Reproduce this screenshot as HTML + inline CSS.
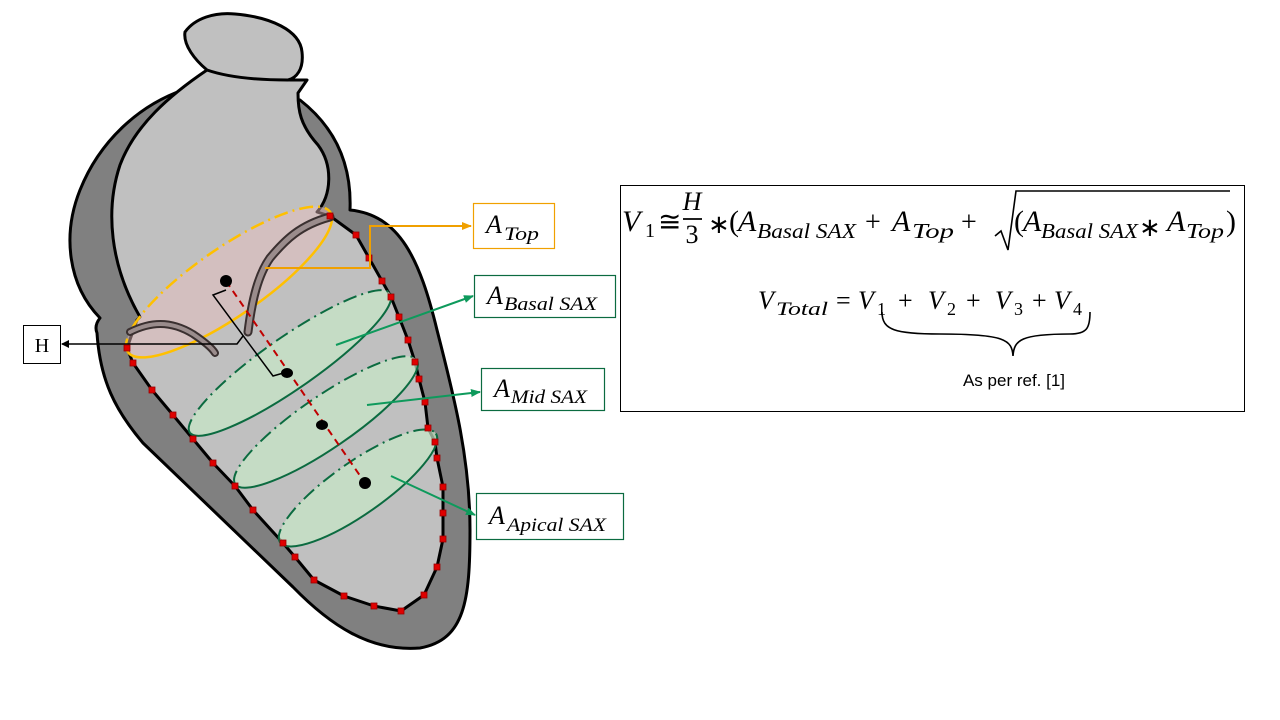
<!DOCTYPE html>
<html><head><meta charset="utf-8"><style>
html,body{margin:0;padding:0;background:#fff;}
svg{display:block;}
.m{font-family:"Liberation Serif",serif;font-style:italic;}
.n{font-family:"Liberation Serif",serif;}
</style></head><body>
<svg width="1280" height="720" viewBox="0 0 1280 720" xmlns="http://www.w3.org/2000/svg">
<defs>
<marker id="ab" markerWidth="8" markerHeight="8" refX="7" refY="4" orient="auto" markerUnits="userSpaceOnUse"><path d="M0,0 L8,4 L0,8 z" fill="#000"/></marker>
<marker id="ao" markerWidth="10" markerHeight="8" refX="9" refY="4" orient="auto" markerUnits="userSpaceOnUse"><path d="M0,0 L10,4 L0,8 z" fill="#f0a000"/></marker>
<marker id="ag" markerWidth="10" markerHeight="8" refX="9" refY="4" orient="auto" markerUnits="userSpaceOnUse"><path d="M0,0 L10,4 L0,8 z" fill="#0e9a5c"/></marker>
</defs>

<path d="M183,90 C140,105 100,140 80,190 C62,235 68,285 100,318 C96,323 95,328 97,333 C100,380 115,410 143,443 L293,587 C330,625 370,652 420,648 C465,640 470,600 470,530 C470,460 455,400 437,330 C420,260 400,215 350,210 C352,160 332,125 300,100 Z" fill="#808080" stroke="#000" stroke-width="3" stroke-linejoin="round"/>

<path d="M207,70 C170,95 135,125 120,165 C105,210 110,265 140,317 L137,320 L127,348 L133,363 L152,390 L173,415 L193,439 L213,463 L235,486 L253,510 L283,543 L295,557 L314,580 L344,596 L374,606 L401,611 L424,595 L437,567 L443,539 L443,513 L443,487 L437,458 L435,442 L428,428 L425,402 L419,379 L415,362 L408,340 L399,317 L391,297 L382,281 L369,258 L356,235 L330,216 L317,212 C332,195 333,165 318,145 C300,125 298,110 298,93 L307,80 L290,80 Z" fill="#c0c0c0" stroke="#000" stroke-width="3" stroke-linejoin="round"/>
<path d="M185,32 C195,18 215,12 235,14 C270,17 300,30 302,52 C304,70 296,78 288,80 C260,80 230,78 207,70 C195,60 183,45 185,32 Z" fill="#c0c0c0" stroke="#000" stroke-width="3"/>

<g transform="translate(229,282) rotate(-34.7)">
<ellipse cx="0" cy="0" rx="123" ry="34" fill="rgba(235,190,190,0.45)"/>
<path d="M-123,0 A123,34 0 0 1 123,0" fill="none" stroke="#ffc000" stroke-width="2.5" stroke-dasharray="14,5,2,5"/>
<path d="M-123,0 A123,34 0 0 0 123,0" fill="none" stroke="#ffc000" stroke-width="2.5"/>
</g>

<path d="M330,217 C300,225 285,240 270,258 C258,275 252,300 248,332" fill="none" stroke="#3a3030" stroke-width="9" stroke-linecap="round"/>
<path d="M330,217 C300,225 285,240 270,258 C258,275 252,300 248,332" fill="none" stroke="#9a8c8c" stroke-width="5" stroke-linecap="round"/>
<path d="M130,332 C150,322 170,320 193,334 C205,342 212,348 215,353" fill="none" stroke="#3a3030" stroke-width="8" stroke-linecap="round"/>
<path d="M130,332 C150,322 170,320 193,334 C205,342 212,348 215,353" fill="none" stroke="#9a8c8c" stroke-width="4" stroke-linecap="round"/>

<g transform="translate(290,363) rotate(-34.8)">
<ellipse rx="122" ry="26" fill="rgba(200,232,200,0.7)"/>
<path d="M-122,0 A122,26 0 0 1 122,0" fill="none" stroke="#0b6b40" stroke-width="2" stroke-dasharray="14,5,2,5"/>
<path d="M-122,0 A122,26 0 0 0 122,0" fill="none" stroke="#0b6b40" stroke-width="2"/>
</g>
<g transform="translate(326,422) rotate(-34.4)">
<ellipse rx="110" ry="26" fill="rgba(200,232,200,0.7)"/>
<path d="M-110,0 A110,26 0 0 1 110,0" fill="none" stroke="#0b6b40" stroke-width="2" stroke-dasharray="14,5,2,5"/>
<path d="M-110,0 A110,26 0 0 0 110,0" fill="none" stroke="#0b6b40" stroke-width="2"/>
</g>
<g transform="translate(358,488) rotate(-35)">
<ellipse rx="95" ry="26" fill="rgba(200,232,200,0.7)"/>
<path d="M-95,0 A95,26 0 0 1 95,0" fill="none" stroke="#0b6b40" stroke-width="2" stroke-dasharray="14,5,2,5"/>
<path d="M-95,0 A95,26 0 0 0 95,0" fill="none" stroke="#0b6b40" stroke-width="2"/>
</g>

<line x1="226" y1="281" x2="365" y2="483" stroke="#c00000" stroke-width="2" stroke-dasharray="7,5"/>
<circle cx="226" cy="281" r="6" fill="#000"/>
<ellipse cx="287" cy="373" rx="6" ry="5" fill="#000"/>
<ellipse cx="322" cy="425" rx="6" ry="5" fill="#000"/>
<circle cx="365" cy="483" r="6" fill="#000"/>

<path d="M226,290 L213,295 L273,376 L287,372" fill="none" stroke="#000" stroke-width="1.5"/>
<path d="M243,336 L237,344 L62,344" fill="none" stroke="#000" stroke-width="1.5" marker-end="url(#ab)"/>

<g fill="#e00000" stroke="#900" stroke-width="0.8">
<rect x="124" y="345" width="6" height="6"/><rect x="130" y="360" width="6" height="6"/><rect x="149" y="387" width="6" height="6"/><rect x="170" y="412" width="6" height="6"/><rect x="190" y="436" width="6" height="6"/><rect x="210" y="460" width="6" height="6"/><rect x="232" y="483" width="6" height="6"/><rect x="250" y="507" width="6" height="6"/><rect x="280" y="540" width="6" height="6"/><rect x="292" y="554" width="6" height="6"/><rect x="311" y="577" width="6" height="6"/><rect x="341" y="593" width="6" height="6"/><rect x="371" y="603" width="6" height="6"/><rect x="398" y="608" width="6" height="6"/><rect x="421" y="592" width="6" height="6"/><rect x="434" y="564" width="6" height="6"/><rect x="440" y="536" width="6" height="6"/><rect x="440" y="510" width="6" height="6"/><rect x="440" y="484" width="6" height="6"/><rect x="434" y="455" width="6" height="6"/><rect x="432" y="439" width="6" height="6"/><rect x="425" y="425" width="6" height="6"/><rect x="422" y="399" width="6" height="6"/><rect x="416" y="376" width="6" height="6"/><rect x="412" y="359" width="6" height="6"/><rect x="405" y="337" width="6" height="6"/><rect x="396" y="314" width="6" height="6"/><rect x="388" y="294" width="6" height="6"/><rect x="379" y="278" width="6" height="6"/><rect x="366" y="255" width="6" height="6"/><rect x="353" y="232" width="6" height="6"/><rect x="327" y="213" width="6" height="6"/>
</g>

<path d="M265,268 L370,268 L370,226 L471,226" fill="none" stroke="#f0a000" stroke-width="2" marker-end="url(#ao)"/>
<line x1="336" y1="345" x2="473" y2="296" stroke="#0e9a5c" stroke-width="2" marker-end="url(#ag)"/>
<line x1="367" y1="405" x2="480" y2="392" stroke="#0e9a5c" stroke-width="2" marker-end="url(#ag)"/>
<line x1="391" y1="476" x2="475" y2="515" stroke="#0e9a5c" stroke-width="2" marker-end="url(#ag)"/>

<rect x="23.5" y="325.5" width="37" height="38" fill="#fff" stroke="#000" stroke-width="1"/>
<text x="42" y="352" class="n" font-size="20" text-anchor="middle">H</text>

<rect x="473.5" y="203.5" width="81" height="45" fill="#fff" stroke="#f0a000" stroke-width="1.2"/>
<text x="486" y="233" class="m" font-size="26">A</text>
<text x="504" y="240" class="m" font-size="19" textLength="35" lengthAdjust="spacingAndGlyphs">Top</text>

<rect x="474.5" y="275.5" width="141" height="42" fill="#fff" stroke="#0b6b40" stroke-width="1.2"/>
<text x="487" y="304" class="m" font-size="26">A</text>
<text x="504" y="310" class="m" font-size="19" textLength="93" lengthAdjust="spacingAndGlyphs">Basal SAX</text>

<rect x="481.5" y="368.5" width="123" height="42" fill="#fff" stroke="#0b6b40" stroke-width="1.2"/>
<text x="494" y="397" class="m" font-size="26">A</text>
<text x="511" y="403" class="m" font-size="19" textLength="76" lengthAdjust="spacingAndGlyphs">Mid SAX</text>

<rect x="476.5" y="493.5" width="147" height="46" fill="#fff" stroke="#0b6b40" stroke-width="1.2"/>
<text x="489" y="524" class="m" font-size="26">A</text>
<text x="507" y="531" class="m" font-size="19" textLength="99" lengthAdjust="spacingAndGlyphs">Apical SAX</text>

<rect x="620.5" y="185.5" width="624" height="226" fill="#fff" stroke="#000" stroke-width="1"/>
<text x="622" y="231" class="m" font-size="30">V</text>
<text x="645" y="237" class="n" font-size="20">1</text>
<text x="658" y="231" class="n" font-size="28">≅</text>
<text x="692" y="210" class="m" font-size="26" text-anchor="middle">H</text>
<line x1="683" y1="219" x2="702" y2="219" stroke="#000" stroke-width="1.8"/>
<text x="692" y="243" class="n" font-size="26" text-anchor="middle">3</text>
<text x="708" y="233" class="n" font-size="26">∗</text>
<text x="729" y="231" class="n" font-size="30">(</text>
<text x="738" y="231" class="m" font-size="30">A</text>
<text x="757" y="238" class="m" font-size="21" textLength="99" lengthAdjust="spacingAndGlyphs">Basal SAX</text>
<text x="865" y="231" class="n" font-size="28">+</text>
<text x="892" y="231" class="m" font-size="30">A</text>
<text x="912" y="238" class="m" font-size="21" textLength="42" lengthAdjust="spacingAndGlyphs">Top</text>
<text x="961" y="231" class="n" font-size="28">+</text>
<path d="M995,236 L1001,231 L1008,250 L1016,191 L1230,191" fill="none" stroke="#000" stroke-width="1.6"/>
<text x="1014" y="231" class="n" font-size="30">(</text>
<text x="1023" y="231" class="m" font-size="30">A</text>
<text x="1041" y="238" class="m" font-size="21" textLength="97" lengthAdjust="spacingAndGlyphs">Basal SAX</text>
<text x="1139" y="236" class="n" font-size="26">∗</text>
<text x="1167" y="231" class="m" font-size="30">A</text>
<text x="1186" y="238" class="m" font-size="21" textLength="38" lengthAdjust="spacingAndGlyphs">Top</text>
<text x="1226" y="231" class="n" font-size="30">)</text>

<text x="758" y="309" class="m" font-size="26">V</text>
<text x="776" y="315" class="m" font-size="19" textLength="52" lengthAdjust="spacingAndGlyphs">Total</text>
<text x="836" y="309" class="n" font-size="26">=</text>
<text x="858" y="309" class="m" font-size="26">V</text>
<text x="877" y="315" class="n" font-size="18">1</text>
<text x="898" y="309" class="n" font-size="26">+</text>
<text x="928" y="309" class="m" font-size="26">V</text>
<text x="947" y="315" class="n" font-size="18">2</text>
<text x="966" y="309" class="n" font-size="26">+</text>
<text x="995" y="309" class="m" font-size="26">V</text>
<text x="1014" y="315" class="n" font-size="18">3</text>
<text x="1032" y="309" class="n" font-size="26">+</text>
<text x="1054" y="309" class="m" font-size="26">V</text>
<text x="1073" y="315" class="n" font-size="18">4</text>
<path d="M882,312 C882,330 895,334 940,334 C1005,334 1012,340 1013,356 C1014,340 1021,334 1070,334 C1087,334 1090,328 1090,312" fill="none" stroke="#000" stroke-width="1.6"/>
<text x="1014" y="386" font-family="Liberation Sans,sans-serif" font-size="17" text-anchor="middle">As per ref. [1]</text>
</svg>
</body></html>
